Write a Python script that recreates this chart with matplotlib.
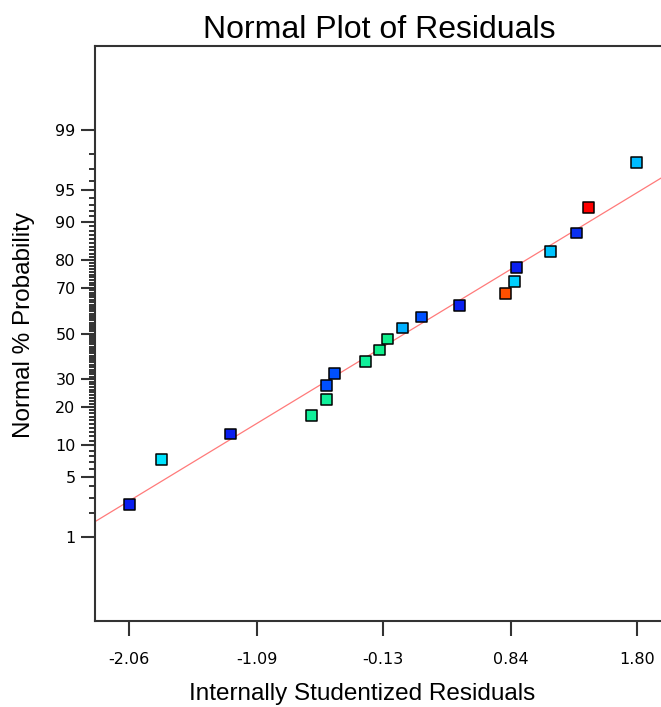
from statistics import NormalDist
import numpy as np
import matplotlib
matplotlib.use("Agg")
import matplotlib.pyplot as plt
from matplotlib.ticker import FixedLocator, NullFormatter, FixedFormatter

# residuals, sorted, with their normal % probability
residuals = [-2.06, -1.81, -1.29, -0.67, -0.56, -0.56, -0.50, -0.26, -0.155, -0.095,
             0.02, 0.16, 0.45, 0.80, 0.87, 0.885, 1.14, 1.34, 1.43, 1.80]
probability = [2.5, 7.5, 12.5, 17.5, 22.5, 27.5, 32.5, 37.5, 42.5, 47.5,
               52.5, 57.5, 62.5, 67.5, 72.5, 77.5, 82.5, 87.5, 92.5, 97.5]
point_colors = ["#0a1ef0", "#00e4ff", "#0a1ef0", "#10f09a", "#10f09a",
                "#0050ff", "#0050ff", "#10f09a", "#10f08c", "#10f08c",
                "#00b0ff", "#0050ff", "#0a20f0", "#ff5000", "#00d0ff",
                "#0a20f0", "#00c4ff", "#0a30f0", "#ff0000", "#00bcff"]

x_ticks = [-2.06, -1.09, -0.13, 0.84, 1.80]
x_tick_labels = ["-2.06", "-1.09", "-0.13", "0.84", "1.80"]
y_major = [1, 5, 10, 20, 30, 50, 70, 80, 90, 95, 99]
y_minor = [p for p in range(1, 100) if p not in y_major]

# reference line, in probit units per residual
fit_slope = 0.914
fit_intercept = -0.034

nd = NormalDist()


def to_probit(p):
    f = np.vectorize(lambda v: nd.inv_cdf(min(max(v / 100.0, 1e-12), 1 - 1e-12)), otypes=[float])
    return f(p)


def from_probit(z):
    f = np.vectorize(lambda v: nd.cdf(v) * 100.0, otypes=[float])
    return f(z)


fig = plt.figure(figsize=(6.61, 7.07), dpi=100)
# axes runs a little past the right edge of the picture, as in the original
ax = fig.add_axes([95 / 661, 86 / 707, 576 / 661, 575 / 707])
ax.set_yscale("function", functions=(to_probit, from_probit))

xmin, xmax = -2.319, 2.059
ax.set_xlim(xmin, xmax)
ax.set_ylim(0.05, 99.95)

xs = np.array([xmin, xmax])
ax.plot(xs, from_probit(fit_slope * xs + fit_intercept), color="#ff7a7a", lw=0.9, zorder=2)

ax.scatter(residuals, probability, marker="s", s=62, c=point_colors,
           edgecolors="black", linewidths=1.1, zorder=3)

ax.xaxis.set_major_locator(FixedLocator(x_ticks))
ax.xaxis.set_major_formatter(FixedFormatter(x_tick_labels))
ax.yaxis.set_major_locator(FixedLocator(y_major))
ax.yaxis.set_major_formatter(FixedFormatter([str(v) for v in y_major]))
ax.yaxis.set_minor_locator(FixedLocator(y_minor))
ax.yaxis.set_minor_formatter(NullFormatter())
ax.xaxis.set_minor_locator(FixedLocator([]))

for s in ["left", "top", "bottom"]:
    ax.spines[s].set_color("#333333")
    ax.spines[s].set_linewidth(1.5)
ax.spines["right"].set_visible(False)

ax.tick_params(axis="x", which="major", length=10.5, width=1.5, color="#333333",
               pad=11.5, labelsize=11.5)
ax.tick_params(axis="y", which="major", length=10, width=1.5, color="#333333",
               pad=4, labelsize=11.5)
ax.tick_params(axis="y", which="minor", length=4.3, width=1.2, color="#111111")

fig.text(379 / 661, 1 - 38 / 707, "Normal Plot of Residuals", ha="center", va="baseline",
         fontsize=23, family="Liberation Sans")
fig.text(362 / 661, 1 - 700 / 707, "Internally Studentized Residuals", ha="center",
         va="baseline", fontsize=17.5, family="Liberation Sans")
fig.text(24 / 661, 1 - 325 / 707, "Normal % Probability", ha="center", va="center",
         rotation=90, fontsize=17.5, family="Liberation Sans")

fig.savefig("out.png", dpi=100)
